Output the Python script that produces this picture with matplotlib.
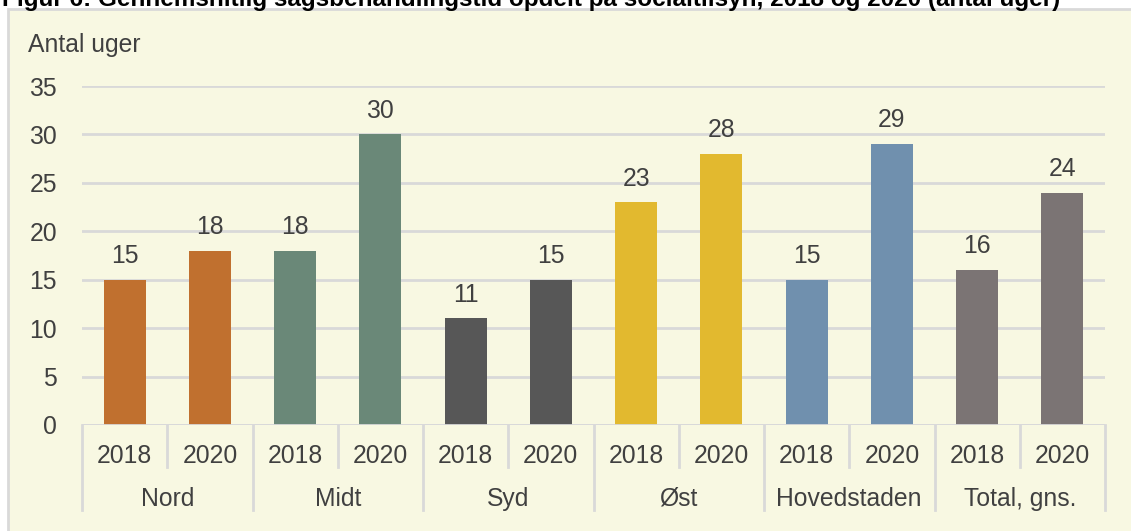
import matplotlib.pyplot as plt
from matplotlib.patches import Rectangle
import matplotlib.transforms as mtransforms

plt.rcParams['font.family'] = ['Liberation Sans', 'DejaVu Sans']

regions = ['Nord', 'Midt', 'Syd', 'Øst', 'Hovedstaden', 'Total, gns.']
years = ['2018', '2020']
values_2018 = [15, 18, 11, 23, 15, 16]
values_2020 = [18, 30, 15, 28, 29, 24]
colors = ['#C0702F', '#6A8878', '#575757', '#E2B92F', '#7090AE', '#7B7474']

bg = '#F8F8E2'
grid_c = '#D9D9D9'
txt_c = '#404040'
fs = 17.8

fig = plt.figure(figsize=(11.31, 5.31), dpi=100)
fig.patch.set_facecolor('white')
fig.patches.append(Rectangle((8 / 1131, -0.01), 1.0, (531 - 9) / 531 + 0.01,
                             transform=fig.transFigure, facecolor=bg,
                             edgecolor=grid_c, linewidth=2, zorder=0))
fig.text(0.002, 1.003, 'Figur 6: Gennemsnitlig sagsbehandlingstid opdelt på socialtilsyn, 2018 og 2020 (antal uger)',
         fontsize=17.5, fontweight='bold', va='center', ha='left', color='black')

ax = fig.add_axes([82 / 1131, (531 - 425) / 531, (1105 - 82) / 1131, (425 - 86) / 531])
ax.set_facecolor('none')
ax.set_zorder(2)

xs, hs, cs = [], [], []
for i, r in enumerate(regions):
    for j, v in enumerate([values_2018[i], values_2020[i]]):
        xs.append(i * 2 + j)
        hs.append(v)
        cs.append(colors[i])

ax.bar(xs, hs, width=0.49, color=cs, zorder=3)
for x, h in zip(xs, hs):
    ax.text(x, h + 1.2, str(h), ha='center', va='bottom', fontsize=fs, color=txt_c)

ax.set_xlim(-0.5, len(xs) - 0.5)
ax.set_ylim(0, 35)
ax.set_yticks(range(0, 36, 5))
ax.yaxis.grid(True, color=grid_c, linewidth=2, zorder=0)
ax.tick_params(axis='y', length=0, labelsize=fs, labelcolor=txt_c, pad=18)
ax.set_xticks([])
for s in ax.spines.values():
    s.set_visible(False)
ax.axhline(0, color=grid_c, linewidth=2, zorder=4)

trans = mtransforms.blended_transform_factory(ax.transData, ax.transAxes)
# year labels and separators
for x in xs:
    ax.text(x, -0.09, years[x % 2], transform=trans, ha='center', va='center',
            fontsize=fs, color=txt_c)
    if x % 2 == 1:
        ax.plot([x - 0.5, x - 0.5], [0, -0.125], transform=trans, color=grid_c,
                linewidth=2, clip_on=False)
for i, r in enumerate(regions):
    ax.text(i * 2 + 0.5, -0.218, r, transform=trans, ha='center', va='center',
            fontsize=fs, color=txt_c)
for b in range(len(regions) + 1):
    ax.plot([b * 2 - 0.5, b * 2 - 0.5], [0, -0.25], transform=trans, color=grid_c,
            linewidth=2, clip_on=False)

fig.text(28 / 1131, (531 - 45) / 531, 'Antal uger', fontsize=fs, color=txt_c,
         ha='left', va='center')

fig.savefig('out.png', dpi=100, facecolor=fig.get_facecolor())
